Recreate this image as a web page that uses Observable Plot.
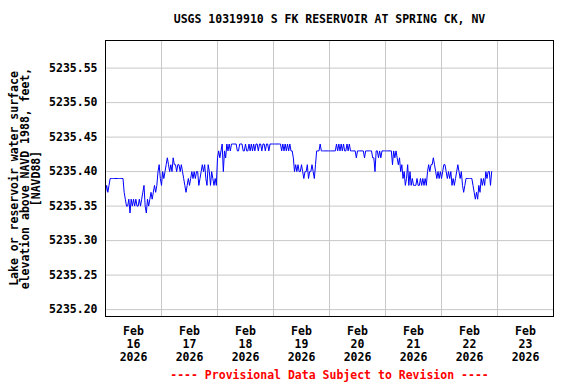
<!DOCTYPE html>
<html>
<head>
<meta charset="utf-8">
<script src="https://cdn.jsdelivr.net/npm/d3@7"></script>
<script src="https://cdn.jsdelivr.net/npm/@observablehq/plot@0.6"></script>
<style>
  html, body { margin: 0; padding: 0; background: white; }
  #chart { width: 576px; height: 384px; }
</style>
</head>
<body>
<div id="chart"></div>
<script>
// Gage height readings, in hundredths of a foot above 5235.00, every 30 minutes from midnight
const day16 = [37,38,37,38,39,39,39,39,39,39,39,39,39,39,39,39,37,36,35,35,36,34,36,35,36,35,36,35,35,36,35,36,37,38,35,34,36,35,36,37,36,37,38,37,38,40,41,39];
const day17 = [38,40,39,40,41,42,41,40,41,40,42,41,41,40,41,41,40,41,40,39,38,37,38,39,38,39,40,39,40,39,40,40,38,39,40,41,40,41,39,38,41,40,38,40,39,38,39,38];
const day18 = [42,43,42,43,44,40,43,42,44,43,44,43,44,44,44,44,44,43,43,44,44,44,43,43,44,43,43,44,43,44,43,44,43,44,44,43,44,44,43,44,44,43,44,44,43,44,44,44];
const day19 = [44,44,44,44,44,44,44,43,44,43,44,43,44,43,44,43,43,42,40,41,40,41,40,40,41,40,39,40,40,41,39,40,40,41,40,39,41,43,43,43,44,43,43,43,43,43,43,43];
const day20 = [43,43,43,43,43,43,44,43,44,43,44,43,44,43,43,44,43,44,43,43,43,43,43,42,43,43,43,43,43,43,42,43,43,43,43,43,43,42,42,40,43,43,42,43,42,43,43,43];
const day21 = [43,43,43,43,43,43,41,43,42,43,42,41,42,40,41,39,40,38,39,41,38,40,38,39,38,38,38,39,38,38,39,38,39,38,39,38,40,41,40,41,41,42,41,40,39,40,39,40];
const day22 = [39,40,41,41,40,39,40,39,40,38,39,38,39,40,41,40,39,40,38,37,38,39,39,39,39,39,39,38,37,36,37,36,38,37,39,38,39,38,40,39,40,40,38,40];

const days = [16, 17, 18, 19, 20, 21, 22];
const series = [day16, day17, day18, day19, day20, day21, day22];
const baseElevation = 5235.00;

const yTicks = [5235.20, 5235.25, 5235.30, 5235.35, 5235.40, 5235.45, 5235.50, 5235.55];
const labelDays = [16, 17, 18, 19, 20, 21, 22, 23];
const gridDays = [16, 17, 18, 19, 20, 21, 22, 23, 24];

const titleText = "USGS 10319910 S FK RESERVOIR AT SPRING CK, NV";
const yLabelText = "Lake or reservoir water surface\nelevation above NAVD 1988, feet,\n[NAVD88]";
const captionText = "---- Provisional Data Subject to Revision ----";

const data = [];
series.forEach((vals, k) => {
  vals.forEach((h, i) => {
    data.push({t: new Date(2026, 1, days[k], 0, 30 * i), v: baseElevation + h / 100});
  });
});

const labelDates = labelDays.map(d => new Date(2026, 1, d, 12));
const gridDates = gridDays.map(d => new Date(2026, 1, d));

const font = "'DejaVu Sans Mono', monospace";

const chart = Plot.plot({
  width: 576,
  height: 384,
  marginTop: 40,
  marginBottom: 68,
  marginLeft: 105,
  marginRight: 23,
  style: {fontFamily: font, fontSize: "11.5px", fontWeight: "bold", background: "white", color: "black"},
  x: {type: "time", domain: [new Date(2026, 1, 16), new Date(2026, 1, 24)]},
  y: {domain: [5235.19, 5235.59]},
  marks: [
    Plot.gridX(gridDates, {stroke: "#c8c8c8", strokeOpacity: 1, strokeWidth: 1}),
    Plot.gridY(yTicks, {stroke: "#c8c8c8", strokeOpacity: 1, strokeWidth: 1}),
    Plot.line(data, {x: "t", y: "v", stroke: "#0000ff", strokeWidth: 1}),
    Plot.frame({stroke: "black", strokeWidth: 1}),
    Plot.axisY(yTicks, {tickSize: 0, tickPadding: 8, tickFormat: d => d.toFixed(2), label: null, fontSize: 11.5, fontWeight: "bold"}),
    Plot.axisX(labelDates, {tickSize: 0, tickPadding: 9, tickFormat: d => `Feb\n${d.getDate()}\n2026`, label: null, fontSize: 11.5, fontWeight: "bold", lineHeight: 1.13}),
    Plot.text([titleText], {text: d => d, frameAnchor: "top", dy: -21, lineAnchor: "middle", fontSize: 11.5, fontWeight: "bold"}),
    Plot.text([yLabelText], {text: d => d, frameAnchor: "left", dx: -80, rotate: -90, lineAnchor: "middle", textAnchor: "middle", lineHeight: 0.96, fontSize: 11.5, fontWeight: "bold"}),
    Plot.text([captionText], {text: d => d, frameAnchor: "bottom", dy: 59, lineAnchor: "middle", fill: "#ff0000", fontSize: 11.5, fontWeight: "bold"})
  ]
});
document.getElementById("chart").appendChild(chart);
</script>
</body>
</html>
